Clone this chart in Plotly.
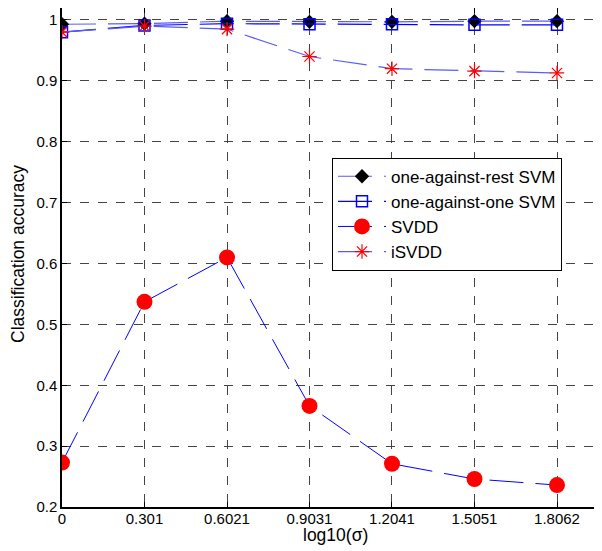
import plotly.graph_objects as go

x_vals = [0, 0.301, 0.6021, 0.9031, 1.2041, 1.5051, 1.8062]
x_ticktext = ["0", "0.301", "0.6021", "0.9031", "1.2041", "1.5051", "1.8062"]
y_tickvals = [0.2, 0.3, 0.4, 0.5, 0.6, 0.7, 0.8, 0.9, 1.0]
y_ticktext = ["0.2", "0.3", "0.4", "0.5", "0.6", "0.7", "0.8", "0.9", "1"]

rest_svm = [0.993, 0.994, 0.998, 0.997, 0.997, 0.998, 0.998]
one_svm = [0.980, 0.991, 0.994, 0.993, 0.993, 0.992, 0.992]
svdd = [0.273, 0.537, 0.610, 0.366, 0.271, 0.246, 0.236]
isvdd = [0.980, 0.990, 0.985, 0.940, 0.920, 0.916, 0.913]

dash = "34px,12px"
fig = go.Figure()
fig.add_trace(go.Scatter(x=x_vals, y=rest_svm, name="one-against-rest SVM", mode="lines+markers",
                         line=dict(color="#5a5aff", width=1.2, dash=dash),
                         marker=dict(symbol="diamond", size=11, color="black")))
fig.add_trace(go.Scatter(x=x_vals, y=one_svm, name="one-against-one SVM", mode="lines+markers",
                         line=dict(color="blue", width=1.2, dash=dash),
                         marker=dict(symbol="square-open", size=11, color="blue", line=dict(width=1.5))))
fig.add_trace(go.Scatter(x=x_vals, y=svdd, name="SVDD", mode="lines+markers",
                         line=dict(color="blue", width=1, dash=dash),
                         marker=dict(symbol="circle", size=16, color="#ff0000")))
fig.add_trace(go.Scatter(x=x_vals, y=isvdd, name="iSVDD", mode="lines+markers",
                         line=dict(color="#5a5aff", width=1.2, dash=dash),
                         marker=dict(symbol="asterisk-open", size=12, color="red", line=dict(width=1.2, color="red"))))

font = "Liberation Sans, Arial, sans-serif"
fig.update_layout(
    width=594, height=543,
    margin=dict(l=54, r=0, t=0, b=44, autoexpand=False),
    paper_bgcolor="white", plot_bgcolor="white",
    font=dict(family=font, size=15, color="black"),
    legend=dict(x=0.5, y=0.70, xanchor="left", yanchor="top",
                bordercolor="black", borderwidth=1, bgcolor="white",
                font=dict(size=17), tracegroupgap=0, itemwidth=48),
    showlegend=True,
    annotations=[
        dict(text="Classification accuracy", xref="paper", yref="paper",
             x=-0.0815, y=0.507, xanchor="center", yanchor="middle",
             textangle=-90, showarrow=False, font=dict(size=17.5)),
        dict(text="log10(σ)", xref="paper", yref="paper",
             x=0.5056, y=-0.0561, xanchor="center", yanchor="middle",
             showarrow=False, font=dict(size=17.5)),
    ],
)
fig.update_xaxes(range=[0, 1.9704], tickvals=x_vals, ticktext=x_ticktext, automargin=False,
                 showgrid=True, gridcolor="#444444", griddash="dash", gridwidth=1,
                 showline=True, linecolor="black", linewidth=1.5, mirror="ticks",
                 ticks="inside", ticklen=5, tickcolor="black", zeroline=False,
                 ticklabelstandoff=-3)
fig.update_yaxes(range=[0.2, 1.0197], tickvals=y_tickvals, ticktext=y_ticktext, automargin=False,
                 showgrid=True, gridcolor="#444444", griddash="dash", gridwidth=1,
                 showline=True, linecolor="black", linewidth=1.5,
                 ticks="inside", ticklen=5, tickcolor="black", zeroline=False)
fig.write_html("out.html")
